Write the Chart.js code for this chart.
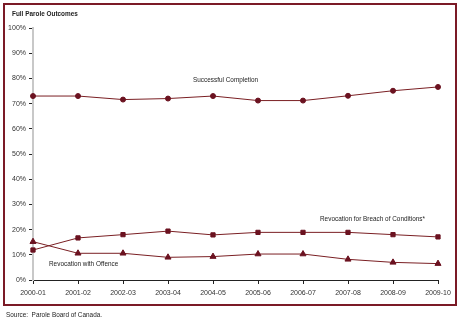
<!DOCTYPE html>
<html>
<head>
<meta charset="utf-8">
<script src="https://cdn.jsdelivr.net/npm/chart.js@4"></script>
<style>
  html, body { margin: 0; padding: 0; background: #fff; }
  #wrap { width: 460px; height: 322px; }
</style>
</head>
<body>
<div id="wrap"><canvas id="outcomeChart" width="460" height="322"></canvas></div>
<script>
// Chart data
const years = ["2000-01", "2001-02", "2002-03", "2003-04", "2004-05", "2005-06", "2006-07", "2007-08", "2008-09", "2009-10"];
const successful = [73.0, 73.0, 71.6, 72.0, 73.0, 71.2, 71.2, 73.1, 75.1, 76.6];
const breach = [11.9, 16.7, 18.0, 19.4, 17.9, 18.9, 18.9, 18.9, 18.0, 17.1];
const offence = [15.2, 10.6, 10.6, 9.0, 9.3, 10.3, 10.3, 8.2, 7.0, 6.5];
const yTicks = [0, 10, 20, 30, 40, 50, 60, 70, 80, 90, 100];

const lineColor = "#7a1f23";
const markColor = "#6b1220";
const font = "'Liberation Sans', Arial, sans-serif";

// narrow text, the original uses a condensed face
function narrowText(c, text, x, y) {
  c.save();
  c.translate(x, y);
  c.scale(0.8, 1);
  c.fillText(text, 0, 0);
  c.restore();
}

// Frame, title, series labels and source note
const decorPlugin = {
  id: "decor",
  beforeDraw(chart) {
    const c = chart.ctx;
    c.save();
    c.strokeStyle = "#7b1a26";
    c.lineWidth = 2;
    c.strokeRect(4, 4, 452, 301);
    c.restore();
  },
  afterDraw(chart) {
    const c = chart.ctx;
    const x = chart.scales.x, y = chart.scales.y;
    c.save();
    c.fillStyle = "#222";
    c.textBaseline = "middle";
    c.font = "bold 8px " + font;
    narrowText(c, "Full Parole Outcomes", 12, 14);
    c.font = "8px " + font;
    narrowText(c, "Successful Completion", x.getPixelForValue(4) - 20, y.getPixelForValue(79.3));
    narrowText(c, "Revocation for Breach of Conditions*", x.getPixelForValue(6) + 17, y.getPixelForValue(24.2));
    narrowText(c, "Revocation with Offence", x.getPixelForValue(0) + 16, y.getPixelForValue(6.3));
    narrowText(c, "Source:  Parole Board of Canada.", 6, 315);
    c.restore();
  }
};

const ctx = document.getElementById("outcomeChart").getContext("2d");
const outcomeChart = new Chart(ctx, {
  type: "line",
  data: {
    labels: years,
    datasets: [
      {
        label: "Successful Completion",
        data: successful,
        borderColor: lineColor,
        borderWidth: 1,
        pointStyle: "circle",
        pointRadius: 2.5,
        pointBackgroundColor: markColor,
        pointBorderColor: markColor
      },
      {
        label: "Revocation for Breach of Conditions*",
        data: breach,
        borderColor: lineColor,
        borderWidth: 1,
        pointStyle: "rect",
        pointRadius: 3,
        pointBackgroundColor: markColor,
        pointBorderColor: markColor
      },
      {
        label: "Revocation with Offence",
        data: offence,
        borderColor: lineColor,
        borderWidth: 1,
        pointStyle: "triangle",
        pointRadius: 3.5,
        pointBackgroundColor: markColor,
        pointBorderColor: markColor
      }
    ]
  },
  options: {
    responsive: false,
    animation: false,
    layout: { padding: { left: 0, right: 22, top: 28, bottom: 24 } },
    plugins: { legend: { display: false }, tooltip: { enabled: false } },
    scales: {
      x: {
        offset: false,
        afterFit(s) { s.height = 18; },
        grid: { display: true, drawOnChartArea: false, drawTicks: true, tickLength: 4, color: "#222" },
        border: { color: "#222", width: 1 },
        ticks: { color: "#333", font: { family: font, size: 7 }, padding: 5, maxRotation: 0, autoSkip: false }
      },
      y: {
        min: 0,
        max: 100,
        afterFit(s) { s.width = 33; },
        afterBuildTicks(s) { s.ticks = yTicks.map(v => ({ value: v })); },
        grid: { display: true, drawOnChartArea: false, drawTicks: true, tickLength: 4, color: "#222" },
        border: { color: "#c8c8c8", width: 2 },
        ticks: { color: "#333", font: { family: font, size: 7 }, padding: 3, callback: v => v + "%" }
      }
    }
  },
  plugins: [decorPlugin]
});
</script>
</body>
</html>
